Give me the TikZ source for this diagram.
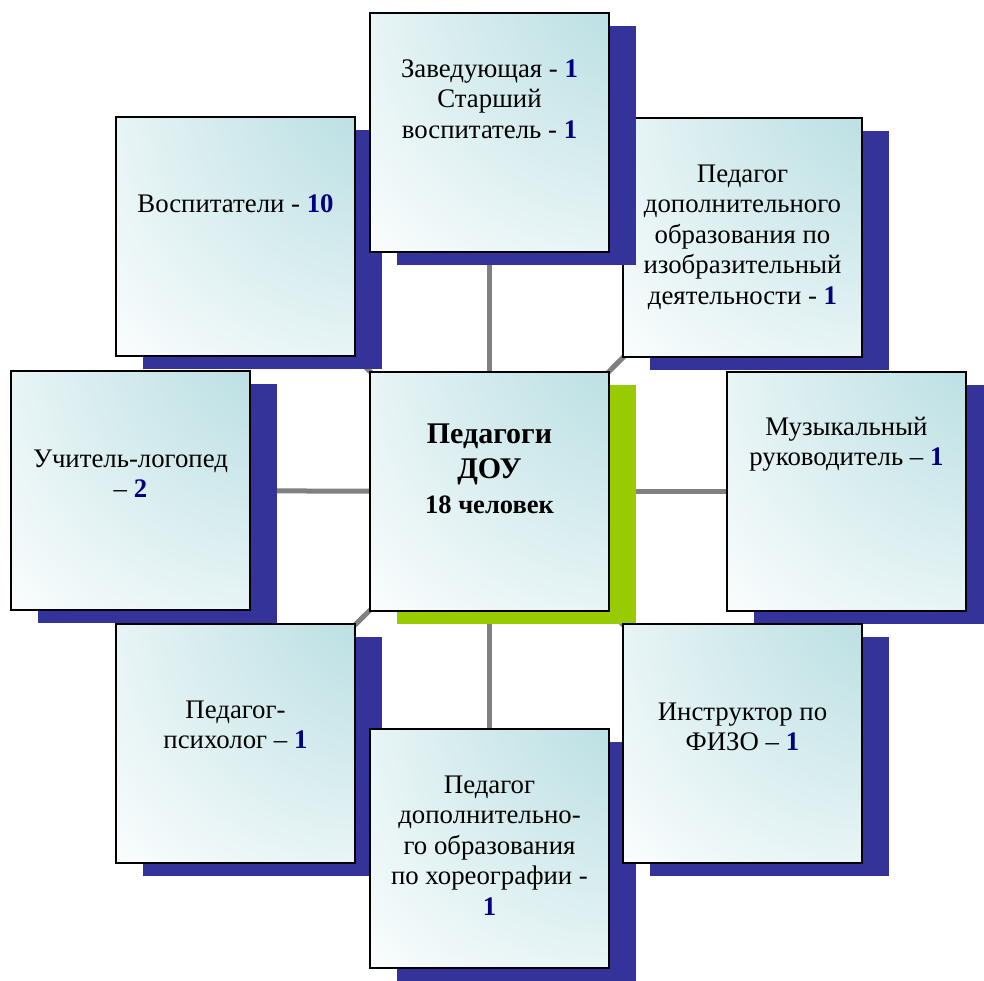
\documentclass[tikz,border=0pt]{standalone}
\usepackage{fontspec}
\setmainfont{Liberation Serif}
\usetikzlibrary{shadows,backgrounds}
\definecolor{shnavy}{RGB}{51,51,153}
\definecolor{shgreen}{RGB}{153,204,0}
\definecolor{boxcyan}{RGB}{182,221,225}
\definecolor{numblue}{RGB}{0,0,128}
\definecolor{conngray}{RGB}{128,128,128}
\pgfdeclareradialshading{cornerfade}{\pgfpoint{50bp}{50bp}}{color(0bp)=(boxcyan); color(16bp)=(boxcyan); color(65bp)=(white); color(100bp)=(white)}
\newcommand{\numb}[1]{\textbf{\color{numblue}#1}}
\newcommand{\firstl}{\rule{0pt}{20pt}}
\begin{document}
\begin{tikzpicture}[x=1pt,y=-1pt,
  cardbase/.style={draw=black, line width=1.5pt, minimum width=239pt, minimum height=239pt,
    inner sep=0pt, outer sep=0pt, anchor=north west, shade, shading=cornerfade},
  card/.style={cardbase, drop shadow={shadow xshift=27pt, shadow yshift=-13pt, fill=shnavy, opacity=1}},
  hubcard/.style={cardbase, drop shadow={shadow xshift=27pt, shadow yshift=-13pt, fill=shgreen, opacity=1}},
  cardtext/.style={anchor=north, align=center, inner sep=0pt, font=\fontsize{26.8}{30.5}\selectfont},
  conn/.style={draw=conngray, line width=5pt}]
\clip (0,0) rectangle (984,980);

% boxes (order controls overlaps)
\node[card] (tl) at (116,117) {};
\node[card] (tr) at (623,118) {};
\node[card] (top) at (370,13) {};
\node[card] (left) at (11,371) {};
\node[hubcard] (hub) at (370,372) {};
\node[card] (right) at (727,372) {};
\node[card] (bl) at (116,624) {};
\node[card] (bottom) at (370,729) {};
\node[card] (br) at (623,624) {};

% connectors behind everything
\begin{scope}[on background layer]
  \draw[conn] (hub.center) -- (top.center);
  \draw[conn] (hub.center) -- (tr.center);
  \draw[conn] (hub.center) -- (right.center);
  \draw[conn] (hub.center) -- (br.center);
  \draw[conn] (hub.center) -- (bottom.center);
  \draw[conn] (hub.center) -- (bl.center);
  \draw[conn] (hub.center) -- (left.center);
  \draw[conn] (hub.center) -- (tl.center);
\end{scope}

% texts
\node[cardtext] (ttop) at ([yshift=-44pt]top.north) {\firstl Заведующая - \numb{1}\\Старший\\воспитатель - \numb{1}};
\node[cardtext] (ttr) at ([yshift=-44pt]tr.north) {\firstl Педагог\\дополнительного\\образования по\\изобразительный\\деятельности - \numb{1}};
\node[cardtext] (tright) at ([yshift=-43pt]right.north) {\firstl Музыкальный\\руководитель – \numb{1}};
\node[cardtext] (tbr) at ([yshift=-76pt]br.north) {\firstl Инструктор по\\ФИЗО – \numb{1}};
\node[cardtext] (tbottom) at ([yshift=-44pt]bottom.north) {\firstl Педагог\\дополнительно-\\го образования\\по хореографии -\\\numb{1}};
\node[cardtext] (tbl) at ([yshift=-74pt]bl.north) {\firstl Педагог-\\психолог – \numb{1}};
\node[cardtext] (tleft) at ([yshift=-76pt]left.north) {\firstl Учитель-логопед\\– \numb{2}};
\node[cardtext] (ttl) at ([yshift=-75pt]tl.north) {\firstl Воспитатели - \numb{10}};
\node[cardtext, font=\bfseries\fontsize{30}{35}\selectfont] (thub) at ([yshift=-47pt]hub.north)
  {\rule{0pt}{24pt}Педагоги\\ДОУ\\{\fontsize{26.5}{30}\selectfont 18 человек}};
\end{tikzpicture}
\end{document}
